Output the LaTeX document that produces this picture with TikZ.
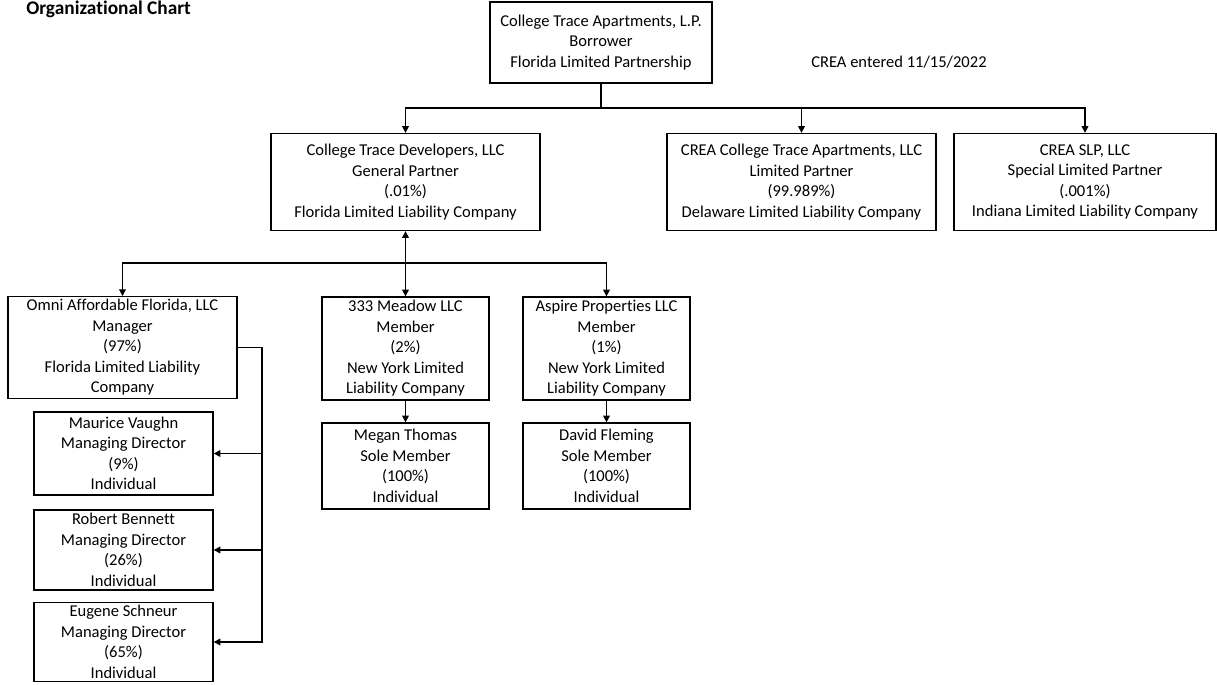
\documentclass[tikz,border=0pt]{standalone}
\usepackage{fontspec}
\setmainfont[Ligatures=NoCommon]{Carlito}
\usetikzlibrary{arrows.meta, positioning}

\begin{document}
\begin{tikzpicture}[
    x=0.75pt, y=-0.75pt,
    font=\fontsize{12.4}{15.4}\selectfont,
    dims/.style 2 args={minimum width=#1*0.75pt, minimum height=#2*0.75pt},
    box/.style={draw, line width=1pt, align=center, inner sep=2pt},
    flow/.style={-{Triangle[length=5pt, width=5pt]}, line width=1pt},
    both/.style={{Triangle[length=5pt, width=5pt]}-{Triangle[length=5pt, width=5pt]}, line width=1pt},
    wire/.style={line width=1pt},
]
    \useasboundingbox (0,0) rectangle (1217,685);

    % --- Heading and note ---
    \node[anchor=base west, inner sep=0pt, font=\bfseries\fontsize{14.5}{16}\selectfont] (title) at (26,15) {Organizational Chart};
    \node[anchor=base west, inner sep=0pt] (note) at (811,68) {CREA entered 11/15/2022};

    % --- Borrower and its partners ---
    \node[box, dims={222}{81}] (borrower) at (601,42.5) {College Trace Apartments, L.P.\\Borrower\\Florida Limited Partnership};

    \node[box, dims={269}{97}] (gp)  at ( 405.5,182) {College Trace Developers, LLC\\General Partner\\(.01\%)\\Florida Limited Liability Company};
    \node[box, dims={269}{97}] (lp)  at ( 801.5,182) {CREA College Trace Apartments, LLC\\Limited Partner\\(99.989\%)\\Delaware Limited Liability Company};
    \node[box, dims={262}{97}] (slp) at (1085  ,182) {CREA SLP, LLC\\Special Limited Partner\\(.001\%)\\Indiana Limited Liability Company};

    % --- Members of the general partner ---
    \node[box, dims={229}{101}] (omni)   at (122.5,347.5) {Omni Affordable Florida, LLC\\Manager\\(97\%)\\Florida Limited Liability\\Company};
    \node[box, dims={167}{103}] (meadow) at (405.5,348.5) {333 Meadow LLC\\Member\\(2\%)\\New York Limited\\Liability Company};
    \node[box, dims={167}{103}] (aspire) at (606.5,348.5) {Aspire Properties LLC\\Member\\(1\%)\\New York Limited\\Liability Company};

    \node[box, dims={167}{86}] (megan) at (405.5,466) {Megan Thomas\\Sole Member\\(100\%)\\Individual};
    \node[box, dims={167}{86}] (david) at (606.5,466) {David Fleming\\Sole Member\\(100\%)\\Individual};

    % --- Directors of the manager ---
    \node[box, dims={179}{83}] (maurice) at (123.5,453.5) {Maurice Vaughn\\Managing Director\\(9\%)\\Individual};
    \node[box, dims={179}{80}] (robert)  at (123.5,550)   {Robert Bennett\\Managing Director\\(26\%)\\Individual};
    \node[box, dims={179}{78}] (eugene)  at (123.5,642)   {Eugene Schneur\\Managing Director\\(65\%)\\Individual};

    % --- Connectors ---
    \coordinate (hub1) at (601,108);
    \coordinate (hub2) at (405.5,263);
    \coordinate (rail) at (262,348);

    \draw[wire] (borrower.south) -- (hub1);
    \draw[flow] (hub1) -| (gp.north);
    \draw[flow] (hub1) -| (lp.north);
    \draw[flow] (hub1) -| (slp.north);

    \draw[both] (gp.south) -- (meadow.north);
    \draw[flow] (hub2) -| (omni.north);
    \draw[flow] (hub2) -| (aspire.north);
    \draw[flow] (meadow.south) -- (megan.north);
    \draw[flow] (aspire.south) -- (david.north);

    \draw[flow] (omni.east) -| (rail |- eugene.east) -- (eugene.east);
    \draw[flow] (rail |- maurice.east) -- (maurice.east);
    \draw[flow] (rail |- robert.east) -- (robert.east);
\end{tikzpicture}
\end{document}
